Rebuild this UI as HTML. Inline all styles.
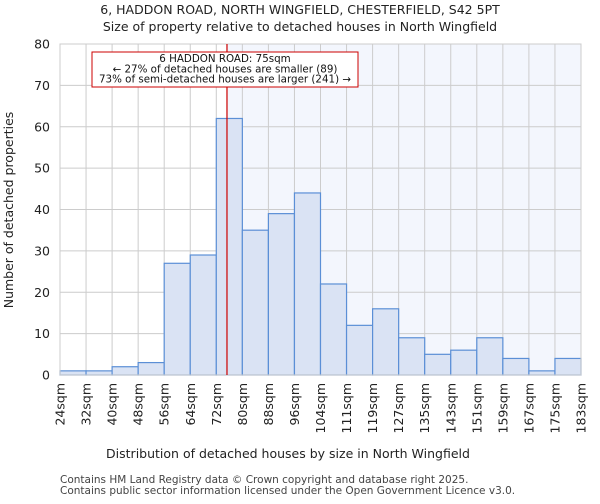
<!DOCTYPE html>
<html><head><meta charset="utf-8"><style>
body{margin:0;background:#fff;font-family:"DejaVu Sans","Liberation Sans",sans-serif;}
</style></head><body>
<svg id="chart" width="600" height="500" xmlns="http://www.w3.org/2000/svg" font-family="DejaVu Sans, Liberation Sans, sans-serif">
<text x="300" y="14" text-anchor="middle" font-size="12.5" fill="#222">6, HADDON ROAD, NORTH WINGFIELD, CHESTERFIELD, S42 5PT</text>
<text x="300" y="31" text-anchor="middle" font-size="12.5" fill="#222">Size of property relative to detached houses in North Wingfield</text>
<g id="plot"></g>
<text x="288" y="458" text-anchor="middle" font-size="12.5" fill="#222">Distribution of detached houses by size in North Wingfield</text>
<text transform="translate(13,210) rotate(-90)" text-anchor="middle" font-size="12.5" fill="#222">Number of detached properties</text>
<text x="60" y="483" font-size="10.5" fill="#444">Contains HM Land Registry data © Crown copyright and database right 2025.</text>
<text x="60" y="494" font-size="10.5" fill="#444">Contains public sector information licensed under the Open Government Licence v3.0.</text>
</svg>
<script>
const categories=["24sqm","32sqm","40sqm","48sqm","56sqm","64sqm","72sqm","80sqm","88sqm","96sqm","104sqm","111sqm","119sqm","127sqm","135sqm","143sqm","151sqm","159sqm","167sqm","175sqm","183sqm"];
const counts=[1,1,2,3,27,29,62,35,39,44,22,12,16,9,5,6,9,4,1,4];
const yTicks=[0,10,20,30,40,50,60,70,80];
const propertyBin=6.41;
const NS="http://www.w3.org/2000/svg";
const L=60,R=581,T=44,B=375,yMax=80;
const n=counts.length,bw=(R-L)/n;
const xs=i=>L+i*bw, ys=v=>B-v/yMax*(B-T);
const g=document.getElementById('plot');
function mk(tag,attrs){const e=document.createElementNS(NS,tag);for(const k in attrs)e.setAttribute(k,attrs[k]);g.appendChild(e);return e;}
const px=xs(propertyBin);
let e=mk('rect',{x:px,y:T,width:R-px,height:B-T,fill:'#f3f6fd'});


yTicks.forEach(t=>{
 let l=mk('line',{x1:L,x2:R,y1:ys(t),y2:ys(t),stroke:'#cccccc','stroke-width':1});
 
 
 let tx=mk('text',{x:L-10,y:ys(t)+4.5,'text-anchor':'end','font-size':12.5,fill:'#222'});
 tx.textContent=t;
 
 
});
categories.forEach((c,i)=>{
 let l=mk('line',{x1:xs(i),x2:xs(i),y1:T,y2:B,stroke:'#cccccc','stroke-width':1});
 
 
 const x=xs(i);
 let tx=mk('text',{transform:`translate(${x+4.5},${B+8}) rotate(-90)`,'text-anchor':'end','font-size':12.5,fill:'#222'});
 tx.textContent=c;
 
 
});
counts.forEach((v,i)=>{
 let r=mk('rect',{x:xs(i),y:ys(v),width:bw,height:B-ys(v),fill:'#dae3f4',stroke:'#5b8fd6','stroke-width':1.2});
 
 
});
let ax=mk('rect',{x:L,y:T,width:R-L,height:B-T,fill:'none',stroke:'#cccccc'});


let ml=mk('line',{x1:px,x2:px,y1:T,y2:B,stroke:'#cc0000','stroke-width':1.2});


let box=mk('rect',{x:92,y:52,width:266,height:35,fill:'#fff',stroke:'#cc0000','stroke-width':1});


["6 HADDON ROAD: 75sqm","← 27% of detached houses are smaller (89)","73% of semi-detached houses are larger (241) →"].forEach((s,i)=>{
 let t=mk('text',{x:225,y:62+i*10.3,'text-anchor':'middle','font-size':10.3,fill:'#111'});
 t.textContent=s;
 
 
});
</script>
</body></html>
